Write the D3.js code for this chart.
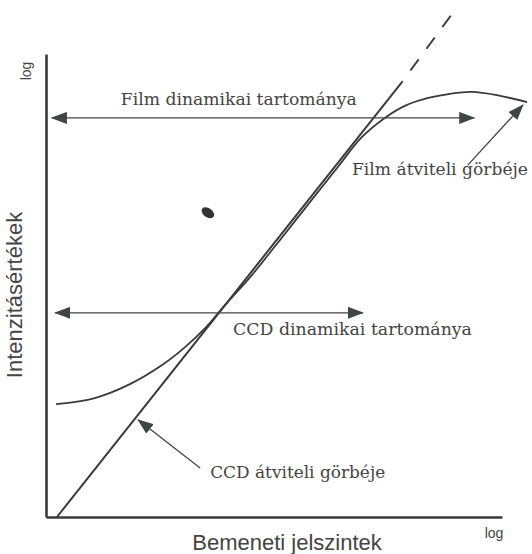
<!DOCTYPE html>
<html>
<head>
<meta charset="utf-8">
<script src="https://cdn.jsdelivr.net/npm/d3@7"></script>
<style>
  body { margin: 0; background: #fff; }
</style>
</head>
<body>
<div id="chart"></div>
<script>
// values in log units
var ccdSolid = [[0.24, 0], [7.81, 9.4]];
var ccdDashed = [[7.81, 9.4], [8.93, 10.9]];
var filmX = [0.22, 1.07, 1.84, 2.57, 3.05, 3.49, 3.93, 4.52, 5.04, 5.77, 6.40, 6.91, 7.43, 7.87, 8.38, 8.86, 9.34, 9.89, 10.55];
var filmY = [2.44, 2.57, 2.87, 3.30, 3.67, 4.08, 4.58, 5.23, 5.87, 6.78, 7.56, 8.19, 8.62, 8.88, 9.05, 9.14, 9.18, 9.11, 8.96];
var filmRangeX = [0.13, 9.39], filmRangeY = 8.62;
var ccdRangeX = [0.2, 6.95], ccdRangeY = 4.41;
var filmPointer = [[9.25, 7.60], [10.46, 8.90]];
var ccdPointer = [[3.38, 1.06], [2.02, 2.10]];
var labelText = ["Film dinamikai tartománya", "CCD dinamikai tartománya", "Film átviteli görbéje", "CCD átviteli görbéje"];

// layout
var width = 532, height = 554;
var svg = d3.select("#chart").append("svg")
    .attr("width", width)
    .attr("height", height);

var x = d3.scaleLinear().domain([0, 10]).range([46, 502]);
var y = d3.scaleLinear().domain([0, 10]).range([517, 54]);

var ink = "#3a3a3a";

// arrow head marker
svg.append("defs").append("marker")
    .attr("id", "head")
    .attr("viewBox", "0 -6 16 12")
    .attr("refX", 15)
    .attr("refY", 0)
    .attr("markerUnits", "userSpaceOnUse")
    .attr("markerWidth", 16)
    .attr("markerHeight", 12)
    .attr("orient", "auto-start-reverse")
  .append("path")
    .attr("d", "M0,-6L16,0L0,6Z")
    .attr("fill", "#3d4843");

// axes, no ticks
svg.append("g")
    .attr("transform", "translate(0," + y(0) + ")")
    .call(d3.axisBottom(x).ticks(0).tickSizeOuter(0))
    .select(".domain").attr("stroke", ink).attr("stroke-width", 2.6);
svg.append("g")
    .attr("transform", "translate(" + x(0) + ",0)")
    .call(d3.axisLeft(y).ticks(0).tickSizeOuter(0))
    .select(".domain").attr("stroke", ink).attr("stroke-width", 2.6);

var line = d3.line()
    .x(function(d) { return x(d[0]); })
    .y(function(d) { return y(d[1]); });

// CCD transfer line
svg.append("path")
    .attr("d", line(ccdSolid))
    .attr("fill", "none")
    .attr("stroke", ink)
    .attr("stroke-width", 2);
svg.append("path")
    .attr("d", line(ccdDashed))
    .attr("fill", "none")
    .attr("stroke", ink)
    .attr("stroke-width", 2)
    .attr("stroke-dasharray", "14,13")
    .attr("stroke-dashoffset", -14);

// film transfer curve
var filmData = filmX.map(function(v, i) { return [v, filmY[i]]; });
var curve = d3.line()
    .x(function(d) { return x(d[0]); })
    .y(function(d) { return y(d[1]); })
    .curve(d3.curveCatmullRom.alpha(0.5));
svg.append("path")
    .attr("d", curve(filmData))
    .attr("fill", "none")
    .attr("stroke", ink)
    .attr("stroke-width", 1.8);

// dynamic range arrows
[[filmRangeX, filmRangeY], [ccdRangeX, ccdRangeY]].forEach(function(r) {
  svg.append("path")
      .attr("d", line([[r[0][0], r[1]], [r[0][1], r[1]]]))
      .attr("stroke", "#444")
      .attr("stroke-width", 1.3)
      .attr("marker-start", "url(#head)")
      .attr("marker-end", "url(#head)");
});

// pointer arrows
[filmPointer, ccdPointer].forEach(function(p) {
  svg.append("path")
      .attr("d", line(p))
      .attr("stroke", "#444")
      .attr("stroke-width", 1.3)
      .attr("marker-end", "url(#head)");
});

// scan spot
svg.append("ellipse")
    .attr("cx", x(3.55)).attr("cy", y(6.57))
    .attr("rx", 7).attr("ry", 4.5)
    .attr("transform", "rotate(35," + x(3.55) + "," + y(6.57) + ")")
    .attr("fill", "#333");

// serif labels
var labelPos = [[1.64, 8.90, 236], [4.10, 3.93, 239], [6.71, 7.38, 176], [3.60, 0.84, 175]];
svg.selectAll(".lbl")
  .data(labelText)
  .enter()
  .append("text")
    .attr("class", "lbl")
    .attr("x", function(d, i) { return x(labelPos[i][0]); })
    .attr("y", function(d, i) { return y(labelPos[i][1]); })
    .attr("textLength", function(d, i) { return labelPos[i][2]; })
    .attr("lengthAdjust", "spacingAndGlyphs")
    .style("font-family", "'DejaVu Serif', 'Liberation Serif', serif")
    .style("font-size", "17px")
    .style("fill", "#444")
    .text(function(d) { return d; });

// axis titles
svg.append("text")
    .attr("x", 287)
    .attr("y", 550)
    .attr("text-anchor", "middle")
    .style("font-family", "'Liberation Sans', Arial, sans-serif")
    .style("font-size", "22px")
    .style("fill", "#444")
    .text("Bemeneti jelszintek");
svg.append("text")
    .attr("transform", "translate(22,295) rotate(-90)")
    .attr("text-anchor", "middle")
    .style("font-family", "'Liberation Sans', Arial, sans-serif")
    .style("font-size", "22px")
    .style("fill", "#444")
    .text("Intenzitásértékek");
svg.append("text")
    .attr("x", 494)
    .attr("y", 538)
    .attr("text-anchor", "middle")
    .style("font-family", "'Liberation Sans', Arial, sans-serif")
    .style("font-size", "14px")
    .style("fill", "#444")
    .text("log");
svg.append("text")
    .attr("transform", "translate(31,71) rotate(-90)")
    .attr("text-anchor", "middle")
    .style("font-family", "'Liberation Sans', Arial, sans-serif")
    .style("font-size", "14px")
    .style("fill", "#444")
    .text("log");
</script>
</body>
</html>
